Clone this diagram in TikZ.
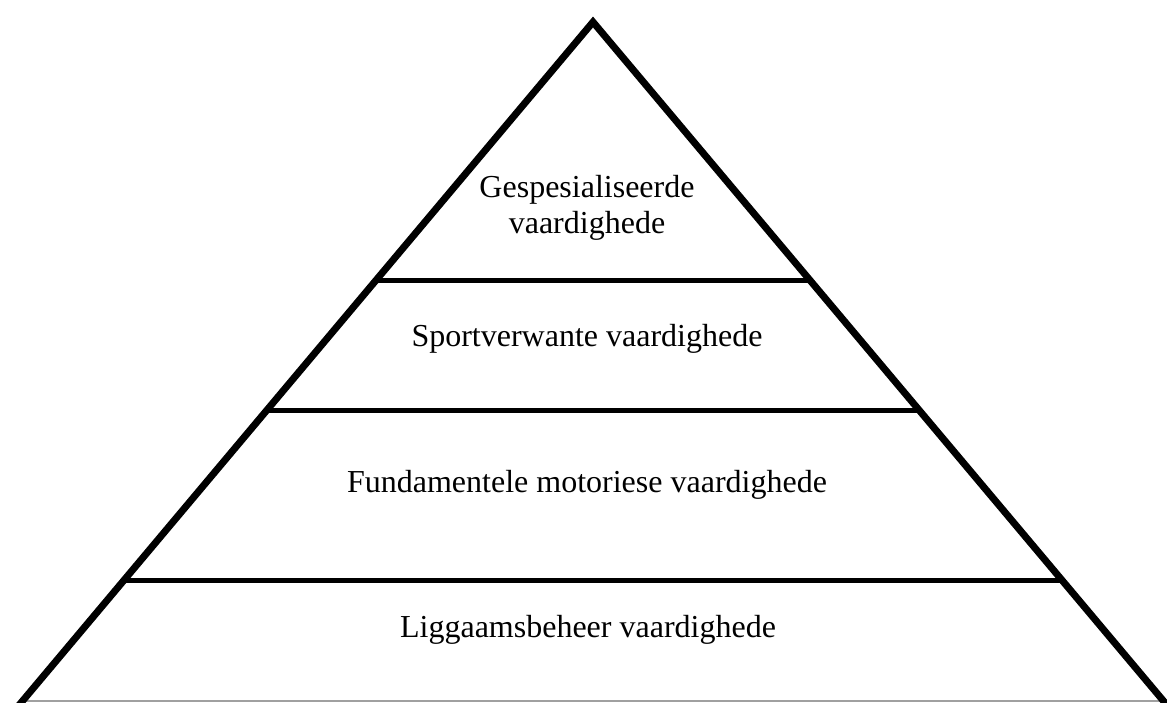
\documentclass[tikz,border=0pt]{standalone}
\usepackage{fontspec}
\setmainfont{Liberation Serif}
\usetikzlibrary{calc}
\begin{document}
\begin{tikzpicture}[x=1pt,y=1pt,
  side/.style={line width=7pt,line join=miter},
  layer/.style={line width=5pt},
  baseline/.style={line width=2pt,draw={rgb,255:red,160;green,160;blue,160}},
  label/.style={anchor=base,font=\fontsize{32}{36}\selectfont,inner sep=0pt,align=center}]
\useasboundingbox (0,0) rectangle (1167,702);
\clip (0,0) rectangle (1167,702);
\coordinate (apex) at (593,680);
\coordinate (bl) at (22.5,1);
\coordinate (br) at (1163.5,1);
\coordinate (blx) at ($(apex)!1.03!(bl)$);
\coordinate (brx) at ($(apex)!1.03!(br)$);
% layer boundaries
\coordinate (l1) at (intersection of apex--bl and 0,421--1,421);
\coordinate (r1) at (intersection of apex--br and 0,421--1,421);
\coordinate (l2) at (intersection of apex--bl and 0,291.5--1,291.5);
\coordinate (r2) at (intersection of apex--br and 0,291.5--1,291.5);
\coordinate (l3) at (intersection of apex--bl and 0,121--1,121);
\coordinate (r3) at (intersection of apex--br and 0,121--1,121);
\draw[baseline] (bl) -- (br);
\draw[layer] (l1) -- (r1);
\draw[layer] (l2) -- (r2);
\draw[layer] (l3) -- (r3);
\draw[side] (blx) -- (apex) -- (brx);
\node[label] (t1a) at (587,504) {Gespesialiseerde};
\node[label] (t1b) at (587,468) {vaardighede};
\node[label] (t2) at (587,355) {Sportverwante vaardighede};
\node[label] (t3) at (587,210) {Fundamentele motoriese vaardighede};
\node[label] (t4) at (588,65) {Liggaamsbeheer vaardighede};
\end{tikzpicture}
\end{document}
